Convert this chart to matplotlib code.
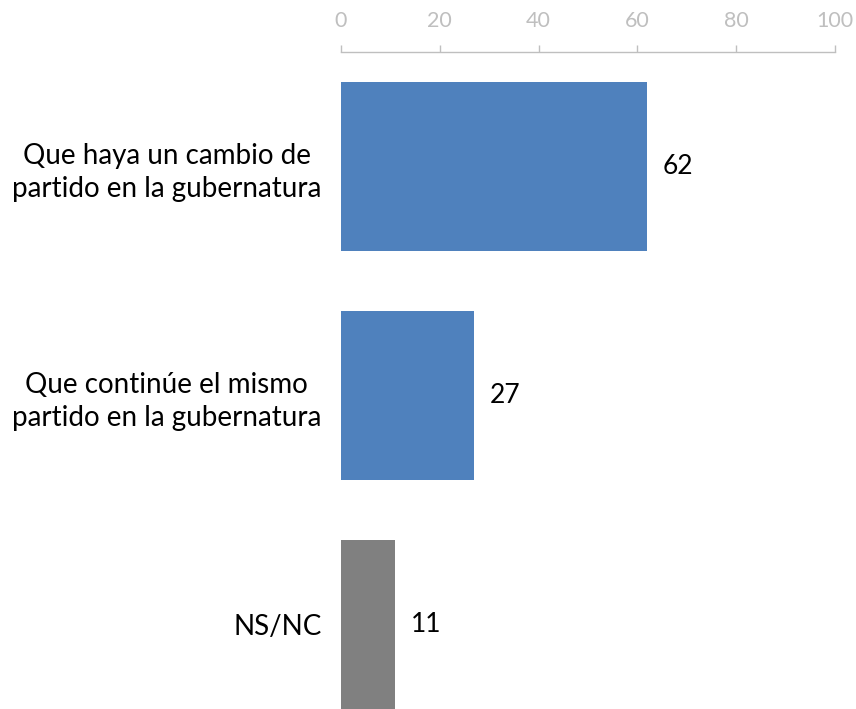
import matplotlib
matplotlib.use("Agg")
import matplotlib.pyplot as plt

categories = ["Que haya un cambio de\npartido en la gubernatura",
              "Que continúe el mismo\npartido en la gubernatura",
              "NS/NC"]
values = [62, 27, 11]
colors = ["#4F81BD", "#4F81BD", "#808080"]
xticks = [0, 20, 40, 60, 80, 100]

plt.rcParams['font.family'] = ['Lato', 'DejaVu Sans']

fig = plt.figure(figsize=(8.56, 7.09), dpi=100)
ax = fig.add_axes([341/856, 0, 494/856, 1 - 52/709])

ypos = list(range(len(values)))
ax.barh(ypos, values, height=0.74, color=colors)
ax.set_xlim(0, 100)
ax.set_ylim(2.37, -0.5)

for y, v in zip(ypos, values):
    ax.text(v + 3.2, y, str(v), va='center', ha='left', fontsize=19, color='black')

ax.set_yticks(ypos)
ax.set_yticklabels(categories, fontsize=20, multialignment='center', linespacing=1.35)
ax.tick_params(axis='y', length=0, pad=14)

ax.xaxis.tick_top()
ax.set_xticks(xticks)
ax.set_xticklabels([str(t) for t in xticks], fontsize=15.5, color='#BFBFBF')
ax.tick_params(axis='x', direction='out', length=5, width=1, color='#BFBFBF', pad=10)

for s in ['left', 'right', 'bottom']:
    ax.spines[s].set_visible(False)
ax.spines['top'].set_color('#BFBFBF')
ax.spines['top'].set_linewidth(1)

fig.savefig("out.png", dpi=100)
